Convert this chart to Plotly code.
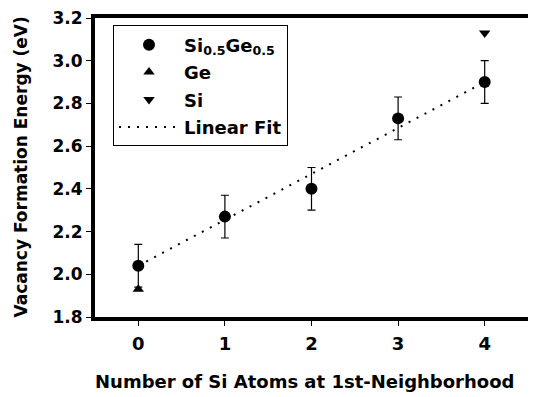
import plotly.graph_objects as go

x_sige = [0, 1, 2, 3, 4]
y_sige = [2.04, 2.27, 2.40, 2.73, 2.90]
err_sige = [0.10, 0.10, 0.10, 0.10, 0.10]
x_ge = [0]
y_ge = [1.93]
x_si = [4]
y_si = [3.13]
fit_x = [0, 4]
fit_y = [2.04, 2.90]
x_ticks = [0, 1, 2, 3, 4]
y_ticks = [1.8, 2.0, 2.2, 2.4, 2.6, 2.8, 3.0, 3.2]
x_title = "Number of Si Atoms at 1st-Neighborhood"
y_title = "Vacancy Formation Energy (eV)"

font_family = "DejaVu Sans, Liberation Sans, Arial, sans-serif"

fig = go.Figure()
fig.add_trace(go.Scatter(x=x_sige, y=y_sige, mode="markers", name="<b>Si<sub>0.5</sub>Ge<sub>0.5</sub></b>",
                         legendgroup="a",
                         marker=dict(symbol="circle", size=12, color="black"),
                         error_y=dict(type="data", array=err_sige, color="black", thickness=1.2, width=4)))
fig.add_trace(go.Scatter(x=x_ge, y=y_ge, mode="markers", name="<b>Ge</b>", legendgroup="b",
                         marker=dict(symbol="triangle-up", size=10, color="black")))
fig.add_trace(go.Scatter(x=x_si, y=y_si, mode="markers", name="<b>Si</b>", legendgroup="c",
                         marker=dict(symbol="triangle-down", size=10, color="black")))
fig.add_trace(go.Scatter(x=fit_x, y=fit_y, mode="lines", name="<b>Linear Fit</b>", legendgroup="d",
                         line=dict(color="black", width=2, dash="2px,7px")))

fig.update_layout(
    width=528, height=389,
    margin=dict(l=87, r=8, t=10, b=80),
    paper_bgcolor="white", plot_bgcolor="white",
    font=dict(family=font_family, color="black", size=18),
    showlegend=True,
    legend=dict(x=0.0416, y=0.975, xanchor="left", yanchor="top",
                bordercolor="black", borderwidth=1, bgcolor="white",
                font=dict(size=18, family=font_family),
                traceorder="grouped", tracegroupgap=1, itemwidth=60),
    xaxis=dict(range=[-0.5, 4.5], tickvals=x_ticks, ticktext=[f"<b>{v}</b>" for v in x_ticks],
               showgrid=False, zeroline=False, showline=True, linecolor="black", linewidth=4,
               mirror=True, ticks="outside", ticklen=5, tickwidth=1, tickcolor="black",
               tickfont=dict(size=18), automargin=False, ticklabeloverflow="allow",
               ticklabelstandoff=2),
    yaxis=dict(range=[1.8, 3.2], tickvals=y_ticks, ticktext=[f"<b>{v:.1f}</b>" for v in y_ticks],
               showgrid=False, zeroline=False, showline=True, linecolor="black", linewidth=4,
               mirror=True, ticks="outside", ticklen=5, tickwidth=1, tickcolor="black",
               tickfont=dict(size=17), automargin=False, ticklabeloverflow="allow"),
    annotations=[
        dict(text=f"<b>{x_title}</b>", xref="paper", yref="paper", x=0.5, y=0,
             xanchor="center", yanchor="middle", xshift=-7, yshift=-64, showarrow=False,
             font=dict(size=18)),
        dict(text=f"<b>{y_title}</b>", xref="paper", yref="paper", x=0, y=0.5,
             xanchor="center", yanchor="middle", xshift=-75, yshift=0, textangle=-90, showarrow=False,
             font=dict(size=17)),
    ],
)
fig.write_html("out.html")
